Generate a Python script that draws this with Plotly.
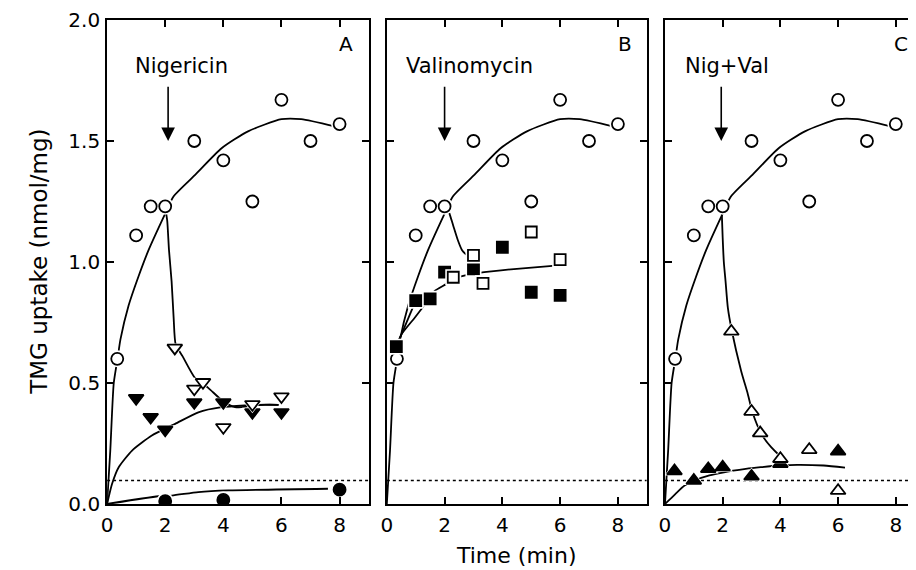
import plotly.graph_objects as go

# ---------------- data ----------------
# control (open circles), identical in all panels
ctrl_t = [0.35, 1.0, 1.5, 2.0, 3.0, 4.0, 5.0, 6.0, 7.0, 8.0]
ctrl_v = [0.60, 1.11, 1.23, 1.23, 1.50, 1.42, 1.25, 1.67, 1.50, 1.57]
ctrl_fit_t = [0, 0.11, 0.23, 0.36, 0.46, 0.74, 1.08, 1.43, 2.0, 2.28, 3.03, 3.94, 4.85, 6.0, 6.68, 7.83]
ctrl_fit_v = [0, 0.22, 0.50, 0.60, 0.68, 0.82, 0.94, 1.05, 1.20, 1.27, 1.36, 1.47, 1.54, 1.59, 1.59, 1.56]

# Panel A - Nigericin
nig_open_t = [2.33, 3.0, 3.3, 4.0, 5.0, 6.0]
nig_open_v = [0.645, 0.476, 0.503, 0.317, 0.412, 0.444]
nig_fill_t = [1.0, 1.5, 2.0, 3.0, 4.0, 5.0, 6.0]
nig_fill_v = [0.437, 0.359, 0.307, 0.42, 0.42, 0.379, 0.379]
nig_open_fit_t = [2.02, 2.07, 2.13, 2.22, 2.29, 2.36, 2.6, 3.03, 3.48, 3.94, 4.4, 5.2, 5.9]
nig_open_fit_v = [1.21, 1.17, 1.05, 0.92, 0.77, 0.66, 0.61, 0.52, 0.48, 0.43, 0.40, 0.41, 0.41]
nig_fill_fit_t = [0, 0.17, 0.4, 0.86, 1.54, 2.34, 3.14, 3.94, 4.74, 5.43, 5.9]
nig_fill_fit_v = [0, 0.083, 0.152, 0.221, 0.283, 0.331, 0.379, 0.40, 0.407, 0.41, 0.41]
circ_fill_t = [2.0, 4.0, 8.0]
circ_fill_v = [0.012, 0.017, 0.059]
circ_fill_fit_t = [0, 1.77, 2.23, 3.14, 4.17, 7.6]
circ_fill_fit_v = [0, 0.032, 0.035, 0.049, 0.056, 0.063]

# Panel B - Valinomycin
val_open_t = [2.3, 3.0, 3.33, 5.0, 6.0]
val_open_v = [0.937, 1.027, 0.912, 1.124, 1.01]
val_fill_t = [0.33, 1.0, 1.5, 2.0, 3.0, 4.0, 5.0, 6.0]
val_fill_v = [0.65, 0.84, 0.848, 0.958, 0.972, 1.061, 0.875, 0.862]
val_drop_t = [2.12, 2.17, 2.3, 2.46, 2.6, 2.75]
val_drop_v = [1.215, 1.20, 1.15, 1.09, 1.05, 1.03]
val_fit1_t = [0.33, 0.5, 1.0]
val_fit1_v = [0.65, 0.70, 0.84]
val_fit2_t = [0.33, 0.5, 1.0, 1.48, 1.65, 2.07, 2.29, 2.68, 3.0, 3.37, 4.5, 5.84]
val_fit2_v = [0.65, 0.70, 0.775, 0.85, 0.88, 0.91, 0.93, 0.944, 0.952, 0.958, 0.972, 0.985]

# Panel C - Nig+Val
nv_open_t = [2.3, 3.0, 3.3, 4.0, 5.0, 6.0]
nv_open_v = [0.713, 0.382, 0.293, 0.187, 0.224, 0.055]
nv_fill_t = [0.33, 1.0, 1.5, 2.0, 3.0, 4.0, 6.0]
nv_fill_v = [0.136, 0.097, 0.145, 0.152, 0.114, 0.166, 0.218]
nv_open_fit_t = [1.97, 2.0, 2.04, 2.1, 2.18, 2.31, 2.64, 2.87, 3.03, 3.34, 3.68, 4.06]
nv_open_fit_v = [1.2, 1.1, 1.0, 0.92, 0.81, 0.72, 0.55, 0.455, 0.38, 0.29, 0.235, 0.19]
nv_fill_fit_t = [0, 0.35, 0.68, 1.02, 1.54, 2.0, 2.8, 3.32, 4.0, 4.58, 5.5, 6.24]
nv_fill_fit_v = [0.0, 0.04, 0.076, 0.097, 0.118, 0.13, 0.145, 0.152, 0.159, 0.162, 0.159, 0.15]

baseline_v = 0.097
x_ticks = [0, 2, 4, 6, 8]
y_ticks = [0.0, 0.5, 1.0, 1.5, 2.0]
panel_letters = ["A", "B", "C"]
drug_labels = ["Nigericin", "Valinomycin", "Nig+Val"]

# ---------------- figure ----------------
# the page body has an 8px margin, so the figure is 8px smaller than the window
W, H = 908, 562
FONT = "DejaVu Sans"
fig = go.Figure()

def line(t, v, ax, shape="spline", dash="solid", width=1.8):
    fig.add_trace(go.Scatter(x=t, y=v, mode="lines", xaxis=ax[0], yaxis=ax[1],
                             line=dict(color="black", width=width, shape=shape,
                                       smoothing=0.6, dash=dash),
                             hoverinfo="skip", showlegend=False))

def marks(t, v, ax, symbol, size, filled):
    # white halo (gap in lines) then the marker itself
    fig.add_trace(go.Scatter(x=t, y=v, mode="markers", xaxis=ax[0], yaxis=ax[1],
                             marker=dict(symbol=symbol, size=size + 5, color="white",
                                         line=dict(width=0)),
                             hoverinfo="skip", showlegend=False))
    fig.add_trace(go.Scatter(x=t, y=v, mode="markers", xaxis=ax[0], yaxis=ax[1],
                             marker=dict(symbol=symbol, size=size,
                                         color="black" if filled else "white",
                                         line=dict(color="black", width=1.8)),
                             showlegend=False))

A = ("x", "y"); B = ("x2", "y2"); C = ("x3", "y3")
xmax = {"x": 9.0, "x2": 9.0, "x3": 8.7}

# lines first
for ax in (A, B, C):
    line(ctrl_fit_t, ctrl_fit_v, ax)
    fig.add_trace(go.Scatter(x=[0, xmax[ax[0]]], y=[baseline_v, baseline_v], mode="lines",
                             xaxis=ax[0], yaxis=ax[1],
                             line=dict(color="black", width=1.4, dash="dot"),
                             hoverinfo="skip", showlegend=False))
line(nig_open_fit_t, nig_open_fit_v, A)
line(nig_fill_fit_t, nig_fill_fit_v, A)
line(circ_fill_fit_t, circ_fill_fit_v, A)
line(val_drop_t, val_drop_v, B)
line(val_fit1_t, val_fit1_v, B, shape="linear")
line(val_fit2_t, val_fit2_v, B)
line(nv_open_fit_t, nv_open_fit_v, C)
line(nv_fill_fit_t, nv_fill_fit_v, C)

# markers
for ax in (A, B, C):
    marks(ctrl_t, ctrl_v, ax, "circle", 12, False)
marks(nig_fill_t, nig_fill_v, A, "triangle-down", 13, True)
marks(nig_open_t, nig_open_v, A, "triangle-down", 13, False)
marks(circ_fill_t, circ_fill_v, A, "circle", 12, True)
marks(val_fill_t, val_fill_v, B, "square", 11, True)
marks(val_open_t, val_open_v, B, "square", 11, False)
marks(nv_fill_t, nv_fill_v, C, "triangle-up", 13, True)
marks(nv_open_t, nv_open_v, C, "triangle-up", 13, False)

# ---------------- axes ----------------
doms = [(93.7 / W, 357.0 / W), (375.3 / W, 637.0 / W), (655.3 / W, 1.0)]
common = dict(showline=True, linecolor="black", linewidth=1.8, ticks="inside",
              ticklen=7, tickwidth=1.5, tickcolor="black", showgrid=False,
              zeroline=False, tickfont=dict(family=FONT, size=20, color="black"))
layout = {}
for i, (name, dom) in enumerate(zip(["", "2", "3"], doms)):
    xr = [0, 9.0] if i < 2 else [0, 8.7]
    layout["xaxis" + name] = dict(common, domain=list(dom), range=xr, tickvals=x_ticks,
                                  mirror="ticks", anchor="y" + name,
                                  ticklabelstandoff=2)
    layout["yaxis" + name] = dict(common, domain=[0, 1], range=[0, 2.0], tickvals=y_ticks,
                                  tickformat=".1f", anchor="x" + name,
                                  mirror="ticks" if i < 2 else False,
                                  showticklabels=(i == 0), ticklabelstandoff=1)

fig.update_layout(width=W, height=H, margin=dict(l=0, r=0, t=12, b=66),
                  paper_bgcolor="white", plot_bgcolor="white", showlegend=False,
                  font=dict(family=FONT, color="black"), **layout)

# ---------------- annotations ----------------
ann = []
arrow_x = [2.1, 2.0, 1.95]
label_x = [2.55, 2.85, 2.15]
letter_x = [8.23, 8.26, 8.17]
for i, name in enumerate(["", "2", "3"]):
    xr, yr = "x" + name, "y" + name
    ann.append(dict(x=label_x[i], y=1.81, xref=xr, yref=yr, text=drug_labels[i],
                    showarrow=False, font=dict(family=FONT, size=21)))
    ann.append(dict(x=letter_x[i], y=1.9, xref=xr, yref=yr, text=panel_letters[i],
                    showarrow=False, font=dict(family=FONT, size=20)))
    ann.append(dict(x=arrow_x[i], y=1.50, xref=xr, yref=yr, ax=arrow_x[i], ay=1.73,
                    axref=xr, ayref=yr, text="", showarrow=True, arrowhead=2,
                    arrowsize=1.7, arrowwidth=1.6, arrowcolor="black"))
PT, PH = 12, 484
ann.append(dict(x=506 / W, y=(PT + PH - 547) / PH, xref="paper", yref="paper",
                text="Time (min)", showarrow=False, yanchor="middle",
                font=dict(family=FONT, size=22)))
ann.append(dict(x=25 / W, y=(PT + PH - 254) / PH, xref="paper", yref="paper",
                text="TMG uptake (nmol/mg)", showarrow=False, textangle=-90,
                xanchor="center", yanchor="middle", font=dict(family=FONT, size=23)))
fig.update_layout(annotations=ann)

fig.write_html("out.html")
